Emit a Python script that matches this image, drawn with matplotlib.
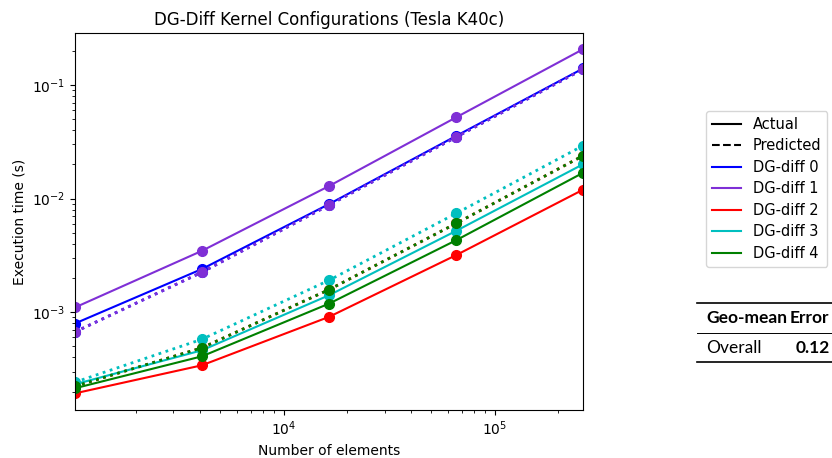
import matplotlib
matplotlib.use("Agg")
import matplotlib.pyplot as plt
from matplotlib.lines import Line2D

n_elements = [1024, 4096, 16384, 65536, 262144]
series_names = ["DG-diff 0", "DG-diff 1", "DG-diff 2", "DG-diff 3", "DG-diff 4"]
series_colors = ["#0000ff", "#7f2fd6", "#ff0000", "#00bfbf", "#008000"]

actual = {
    "DG-diff 0": [7.95e-4, 2.40e-3, 8.95e-3, 0.0356, 0.140],
    "DG-diff 1": [1.10e-3, 3.47e-3, 0.0129, 0.0519, 0.207],
    "DG-diff 2": [1.93e-4, 3.41e-4, 9.1e-4, 3.18e-3, 0.0120],
    "DG-diff 3": [2.32e-4, 4.62e-4, 1.41e-3, 5.2e-3, 0.0201],
    "DG-diff 4": [2.14e-4, 4.09e-4, 1.19e-3, 4.3e-3, 0.0169],
}
predicted = {
    "DG-diff 0": [6.7e-4, 2.25e-3, 8.77e-3, 0.0348, 0.138],
    "DG-diff 1": [6.7e-4, 2.25e-3, 8.77e-3, 0.0348, 0.138],
    "DG-diff 2": [2.23e-4, 4.86e-4, 1.58e-3, 6.05e-3, 0.0239],
    "DG-diff 3": [2.42e-4, 5.78e-4, 1.91e-3, 7.41e-3, 0.0293],
    "DG-diff 4": [2.23e-4, 4.86e-4, 1.58e-3, 6.05e-3, 0.0239],
}
table_header = ["Geo-mean", "Error"]
table_row = ["Overall", "0.12"]

fig = plt.figure(figsize=(8.32, 4.58), dpi=100)
ax = fig.add_axes([0.090, 0.105, 0.611, 0.823])

for name, col in zip(series_names, series_colors):
    ax.plot(n_elements, actual[name], "-o", color=col, lw=1.5, ms=7)
    ax.plot(n_elements, predicted[name], ":o", color=col, lw=2, ms=7)

ax.set_xscale("log")
ax.set_yscale("log")
ax.set_xlim(n_elements[0], n_elements[-1])
ax.set_ylim(1.38e-4, 0.287)
ax.set_title("DG-Diff Kernel Configurations (Tesla K40c)", fontsize=12)
ax.set_xlabel("Number of elements", fontsize=10)
ax.set_ylabel("Execution time (s)", fontsize=10)

handles = [Line2D([], [], color="black", ls="-", lw=1.5),
           Line2D([], [], color="black", ls="--", lw=1.5)]
labels = ["Actual", "Predicted"]
for name, col in zip(series_names, series_colors):
    handles.append(Line2D([], [], color=col, lw=1.5))
    labels.append(name)
fig.legend(handles, labels, loc="upper left", bbox_to_anchor=(0.849, 0.758),
           fontsize=10.5, frameon=True, borderaxespad=0, labelspacing=0.45)

# booktabs-style table
x0, x1 = 0.838, 1.0
for yy, lw in [(1 - 303 / 458, 1.2), (1 - 333 / 458, 0.7), (1 - 362 / 458, 1.2)]:
    fig.add_artist(Line2D([x0, x1], [yy, yy], color="black", lw=lw,
                          transform=fig.transFigure))
tfont = "Lato"
fs = 12.5
fig.text(0.849, 1 - 318 / 458, table_header[0], fontsize=fs, fontweight="bold",
         va="center", ha="left", family=tfont)
fig.text(0.997, 1 - 318 / 458, table_header[1], fontsize=fs, fontweight="bold",
         va="center", ha="right", family=tfont)
fig.text(0.849, 1 - 348 / 458, table_row[0], fontsize=fs, va="center", ha="left",
         family=tfont)
fig.text(0.997, 1 - 348 / 458, table_row[1], fontsize=fs, fontweight="bold",
         va="center", ha="right", family=tfont)

fig.savefig("out.png", dpi=100)
